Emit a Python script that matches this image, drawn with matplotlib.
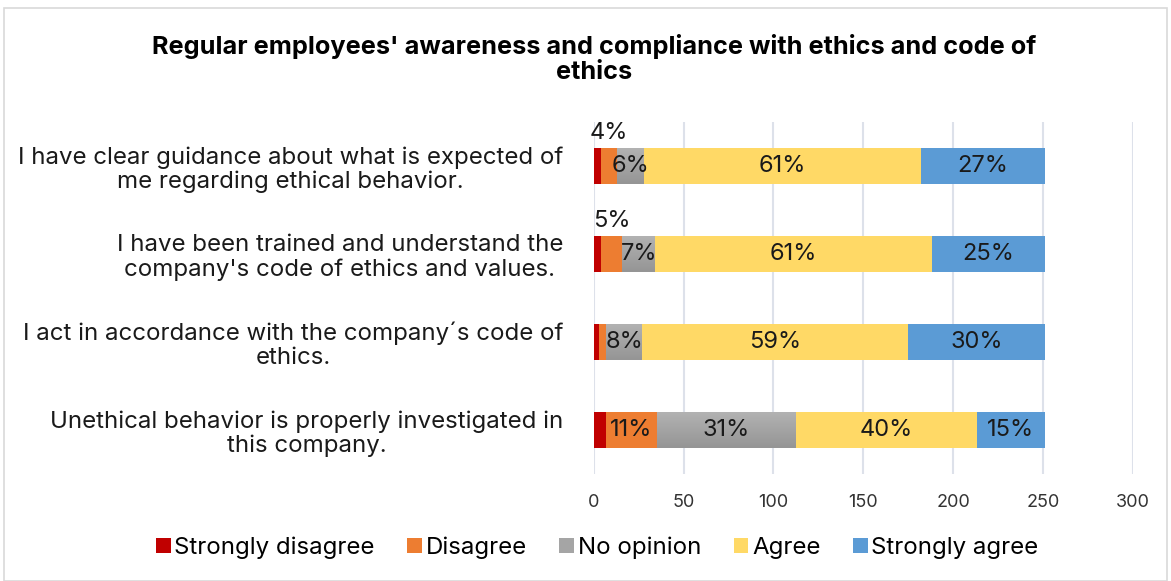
import numpy as np
import matplotlib.pyplot as plt
from matplotlib.colors import LinearSegmentedColormap
from matplotlib.patches import Rectangle

plt.rcParams['font.family'] = ['Inter', 'DejaVu Sans']

statements = [
    "I have clear guidance about what is expected of\nme regarding ethical behavior.",
    "I have been trained and understand the\ncompany's code of ethics and values.",
    "I act in accordance with the company\u00b4s code of\nethics.",
    "Unethical behavior is properly investigated in\nthis company.",
]
series = ["Strongly disagree", "Disagree", "No opinion", "Agree", "Strongly agree"]
strongly_disagree = [4, 4, 3, 7]
disagree = [9, 12, 4, 28]
no_opinion = [15, 18, 20, 77]
agree = [154, 154, 148, 101]
strongly_agree = [69, 63, 76, 38]
colors = ["#C00000", "#ED7D31", "#A5A5A5", "#FFD966", "#5B9BD5"]

data = [strongly_disagree, disagree, no_opinion, agree, strongly_agree]
totals = [sum(col) for col in zip(*data)]

fig = plt.figure(figsize=(11.71, 5.81), dpi=100)
ax = fig.add_axes([0.507, 0.184, 0.4605, 0.606])

gray_grad = LinearSegmentedColormap.from_list("g", ["#B2B2B2", "#959595"])
grad = np.linspace(0, 1, 64).reshape(-1, 1)

y = list(range(len(statements)))
h = 0.4
left = [0] * len(statements)
for k, (name, vals, c) in enumerate(zip(series, data, colors)):
    bars = ax.barh(y, vals, left=left, height=h, color=c, label=name, zorder=3)
    if name == "No opinion":
        for i, v in enumerate(vals):
            ax.imshow(grad, cmap=gray_grad, aspect='auto', zorder=3.1,
                      extent=[left[i], left[i] + v, i + h / 2, i - h / 2])
    for i, v in enumerate(vals):
        pct = round(100 * v / totals[i])
        if k == 0 or v < 5:
            continue
        cx = left[i] + v / 2
        if v < 15 and k == 1:
            ax.text(cx, i - 0.25, f"{pct}%", ha='center', va='bottom', fontsize=17, color='#1a1a1a')
        else:
            ax.text(cx, i, f"{pct}%", ha='center', va='center', fontsize=17, color='#1a1a1a', zorder=4)
    left = [l + v for l, v in zip(left, vals)]

ax.set_ylim(3.5, -0.5)
ax.set_xlim(0, 300)
ax.set_xticks(range(0, 301, 50))
ax.set_yticks(y)
ax.set_yticklabels(statements, fontsize=17.3, multialignment='center', color='#1a1a1a',
                   linespacing=1.1)
ax.tick_params(axis='both', length=0)
ax.tick_params(axis='y', pad=22)
ax.tick_params(axis='x', labelsize=13, pad=14, labelcolor='#333333')
ax.grid(axis='x', color='#DDE1EA', linewidth=1.5, zorder=0)
for s in ax.spines.values():
    s.set_visible(False)

fig.text(0.507, 0.898, "Regular employees' awareness and compliance with ethics and code of\nethics",
         ha='center', va='center', fontsize=18.2, fontweight='bold', linespacing=1.12)

fig.legend(loc='center', bbox_to_anchor=(0.51, 0.057), ncol=5, frameon=False, fontsize=17.3,
           handlelength=0.62, handleheight=0.62, handletextpad=0.15, columnspacing=1.35)

fig.patches.append(Rectangle((0.003, 0.0), 0.994, 0.987, transform=fig.transFigure,
                             fill=False, edgecolor='#D9D9D9', linewidth=1.2))

fig.savefig("out.png", dpi=100)
